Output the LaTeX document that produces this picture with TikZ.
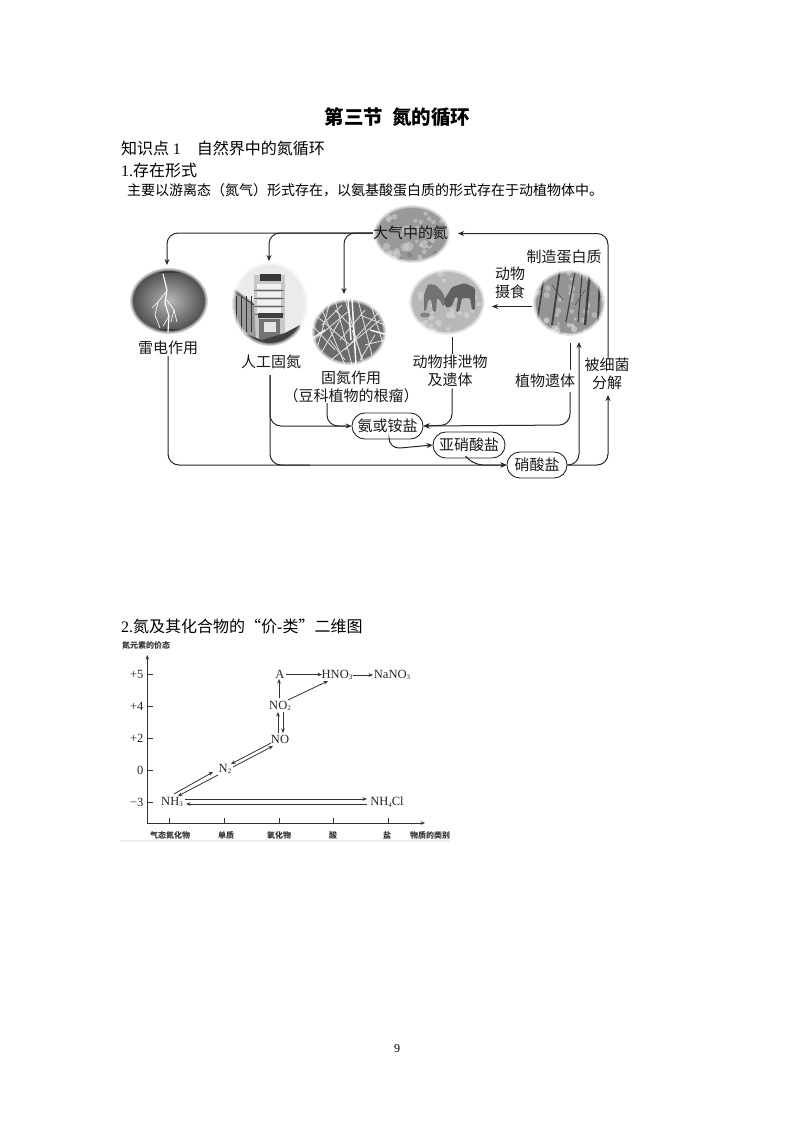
\documentclass[tikz,border=0pt]{standalone}
\usepackage{fontspec}
\setmainfont{Liberation Serif}
\newfontfamily\cjk{Noto Sans CJK SC}
\usetikzlibrary{arrows.meta,calc,shapes.geometric}
\newcommand{\fs}[1]{\fontsize{#1}{#1}\selectfont}
\newcommand{\softedge}[4]{%
  \foreach \w in {1.5,3,4.5,6}{\draw[white,opacity=.3,line width=\w pt] (#1,#2) ellipse [x radius=#3,y radius=#4];}%
  \draw[white,line width=6pt] (#1,#2) ellipse [x radius=#3+3,y radius=#4+3];}
\newcommand{\mottle}[7]{% cx cy rx ry color n size
  \foreach \i in {1,...,#6}{%
    \pgfmathsetmacro\pa{rand*180}\pgfmathsetmacro\pr{sqrt(rnd)}%
    \pgfmathsetmacro\qx{#1+\pr*#3*cos(\pa)}\pgfmathsetmacro\qy{#2+\pr*#4*sin(\pa)}%
    \pgfmathsetmacro\qs{#7*(.5+rnd)}%
    \fill[#5,opacity=.55] (\qx,\qy) circle [radius=\qs];}}
\tikzset{
  x=1pt,y=-1pt,
  txt/.style={inner sep=0pt,font=\cjk\fs{14}},
  head/.style={inner sep=0pt,anchor=west,font=\cjk\fs{16}},
  lab/.style={inner sep=0pt,align=center,font=\cjk\fs{15},text=black!90},
  salt/.style={draw=black!85,line width=.9pt,rounded corners=12.9pt,minimum height=26pt,inner sep=0pt,font=\cjk\fs{15},text=black!90},
  flow/.style={draw=black!85,line width=1pt,rounded corners=11pt},
  tip/.style={-{Stealth[length=6pt,width=5pt]}},
  chem/.style={inner sep=0pt,font=\fs{12.5},text=black!85},
  val/.style={inner sep=0pt,anchor=east,font=\fs{12.5},text=black!85},
  cat/.style={inner sep=0pt,font=\cjk\bfseries\fs{8},text=black!80},
  axis/.style={draw=black!80,line width=.85pt},
  link/.style={draw=black!80,line width=.8pt,-{Stealth[length=4.5pt,width=3.6pt]}}
}
\begin{document}
\begin{tikzpicture}
\useasboundingbox (0,0) rectangle (793,1122);
\fill[white] (0,0) rectangle (793,1122);

% --- page text
\node[inner sep=0pt,font=\cjk\bfseries\fs{19.5}] (title) at (397.5,117) {第三节\hspace{9pt}氮的循环};
\node[head] (k1) at (121,148) {知识点 {\rmfamily 1}\hspace{16pt}自然界中的氮循环};
\node[head] (k2) at (121,170) {{\rmfamily 1.}存在形式};
\node[txt,anchor=west] (k3) at (127,190) {主要以游离态（氮气）形式存在，以氨基酸蛋白质的形式存在于动植物体中。};
\node[head] (k4) at (121,626) {{\rmfamily 2.}氮及其化合物的“价{\rmfamily -}类”二维图};
\node[inner sep=0pt,font=\fs{12}] (page) at (397,1049) {9};

% --- photos
% atmosphere
\begin{scope}
\clip (412,234) ellipse [x radius=38,y radius=29];
\fill[black!40] (374,205) rectangle (450,263);
\pgfmathsetseed{11}
\mottle{412}{234}{38}{29}{black!18}{30}{3.4}
\mottle{412}{234}{38}{29}{black!55}{14}{2.2}
\end{scope}
\softedge{412}{234}{38}{29}

% lightning
\shade[inner color=black!28,outer color=black!72] (169,301) ellipse [x radius=39,y radius=33];
\begin{scope}
\clip (169,301) ellipse [x radius=39,y radius=33];
\fill[black!78] (169,269) ellipse [x radius=24,y radius=4];
\fill[black!78] (169,334) ellipse [x radius=30,y radius=5];
\draw[white,line width=1.2pt] (163,274) -- (167,290) -- (165,303) -- (169,316) -- (168,332);
\draw[white,line width=.7pt] (166,292) -- (158,302) -- (155,315) -- (160,328);
\draw[white,line width=.7pt] (167,300) -- (174,310) -- (177,322);
\draw[white,line width=.6pt] (158,302) -- (152,308);
\draw[white,line width=.6pt] (169,316) -- (163,326);
\draw[white,line width=.6pt] (174,310) -- (171,322);
\end{scope}
\softedge{169}{301}{39}{33}

% factory
\begin{scope}
\clip (270,304) ellipse [x radius=38,y radius=42];
\fill[black!8] (232,262) rectangle (308,346);
\fill[black!22] (254,275) rectangle (285,340);
\fill[black!78] (260,274) rectangle (281,281);
\foreach \yy in {284,292,300,308}{\fill[black!6] (257,\yy) rectangle (281,\yy+5);\draw[black!60,line width=.5pt] (254,\yy+6) -- (284,\yy+6);}
\fill[black!75] (258,313) rectangle (283,318);
\fill[black!55] (259,319) rectangle (280,340);
\fill[black!10] (264,322) rectangle (276,332);
\fill[black!40] (232,287) -- (254,303) -- (256,340) -- (232,335) -- cycle;
\foreach \xx in {236,241,246,251}{\draw[black!80,line width=.9pt] (\xx,296) -- (\xx,332);}
\draw[black!80,line width=.7pt] (232,290) -- (254,305);
\fill[black!75] (240,332) -- (262,340) -- (285,333) -- (300,325) -- (300,346) -- (240,346) -- cycle;
\end{scope}
\softedge{270}{304}{38}{42}

% root nodules
\begin{scope}
\clip (349,332) ellipse [x radius=37,y radius=33];
\fill[black!58] (312,299) rectangle (386,365);
\foreach \a/\b/\c/\d in {312/312/350/345,320/305/345/365,335/300/352/365,345/299/362/360,358/300/372/355,385/305/345/350,380/320/325/365,314/340/350/310,330/302/318/345,370/302/385/350,365/310/340/340,340/320/320/355,352/330/365/365,322/325/342/305,312/325/335/350,375/335/360/360,360/315/385/325,330/340/345/360,318/315/330/300,365/345/385/340,335/310/350/325}{
  \draw[black!15,line width=.9pt] (\a,\b) -- (\c,\d);}
\foreach \a/\b/\c/\d in {352/299/356/365,348/299/351/340,325/330/310/340,370/330/388/335}{
  \draw[black!3,line width=1.5pt] (\a,\b) -- (\c,\d);}
\end{scope}
\softedge{349}{332}{37}{33}

% cattle
\begin{scope}
\clip (447,302) ellipse [x radius=38,y radius=33];
\fill[black!28] (409,269) rectangle (485,335);
\pgfmathsetseed{5}
\mottle{447}{302}{38}{33}{black!14}{30}{2.4}
\fill[black!55,rounded corners=1.5pt] (424,295) -- (428,284) -- (436,285) -- (443,293) -- (446,302) -- (443,307) -- (440,300) -- (437,298) -- (436,312) -- (433,312) -- (431,299) -- (428,300) -- (426,311) -- (424,311) -- cycle;
\fill[black!62,rounded corners=1.5pt] (475,288) -- (465,283) -- (452,287) -- (444,300) -- (446,308) -- (452,306) -- (455,297) -- (458,297) -- (456,312) -- (459,312) -- (462,298) -- (470,298) -- (472,310) -- (475,310) -- cycle;
\fill[black!50] (425,315) ellipse [x radius=5,y radius=2.5];
\end{scope}
\softedge{447}{302}{38}{33}

% forest
\begin{scope}
\clip (569,303) ellipse [x radius=36,y radius=33];
\fill[black!42] (533,270) rectangle (606,336);
\pgfmathsetseed{23}
\mottle{569}{296}{36}{33}{black!18}{30}{2.2}
\mottle{569}{327}{36}{9}{black!10}{18}{2.4}
\foreach \a/\b/\c/\d/\w in {545/270/537/322/1.6,560/270/552/325/1.8,575/272/566/322/1.2,590/270/585/325/2.4,600/272/598/322/1.8,582/275/578/322/1.1}{
  \draw[black!75,line width=\w pt] (\a,\b) -- (\c,\d);}
\draw[black!65,line width=.7pt] (552,285) -- (563,300);
\draw[black!65,line width=.7pt] (585,290) -- (575,305);
\end{scope}
\softedge{569}{303}{36}{33}

% --- cycle labels
\node[lab] (air) at (410.5,233) {大气中的氮};
\node[lab] (llight) at (168,348) {雷电作用};
\node[lab] (lfac) at (271,362) {人工固氮};
\node[lab] (lroot) at (351,387) {固氮作用\\[3pt]（豆科植物的根瘤）};
\node[lab] (lprot) at (564,257) {制造蛋白质};
\node[lab] (leat) at (510,283) {动物\\[3pt]摄食};
\node[lab] (lanim) at (450,370.5) {动物排泄物\\[3pt]及遗体};
\node[lab] (lplant) at (545,381) {植物遗体};
\node[lab] (lbac) at (607,374) {被细菌\\[3pt]分解};
\node[salt,minimum width=71pt] (s1) at (387.5,426) {氨或铵盐};
\node[salt,minimum width=72pt] (s2) at (469,445) {亚硝酸盐};
\node[salt,minimum width=60pt] (s3) at (537,465) {硝酸盐};

% --- cycle connectors
\coordinate (t1) at (167,265);
\coordinate (t2) at (269,261);
\coordinate (t3) at (344,294);
\draw[flow,tip] (air.west) -- (167,233) -- (t1);
\draw[flow,tip] (air.west) -- (269,233) -- (t2);
\draw[flow,tip] (air.west) -- (344,233) -- (t3);
\coordinate (bac) at (608,358);
\draw[flow,tip] (bac) -- (608,233.5) -- (458,233.5);
\draw[flow,tip] (llight.south) ++(0,1) -- (168,465) -- (s3.west);
\coordinate (fa) at (270,375);
\draw[flow] (fa) -- (270,465) -- (310,465);
\draw[flow,tip] (fa) -- (270,426) -- (s1.west);
\coordinate (rt) at (327,403);
\draw[flow] (rt) -- (327,426) -- (346,426);
\coordinate (eatA) at (532,306.5);
\coordinate (eatB) at (492,306.5);
\draw[flow,tip] (eatA) -- (eatB);
\coordinate (an1) at (452,337);
\draw[flow] (an1) -- (lanim.north -| an1);
\draw[flow,tip] (lanim.south -| an1) ++(0,2) -- (452,425) -- (s1.east);
\coordinate (pl1) at (570,343);
\draw[flow] (pl1) -- (570,370);
\coordinate (pl2) at (570,392);
\draw[flow,tip] (pl2) -- (570,425) -- (s1.east);
\draw[flow,tip] (389,439) -- (389,449) -- (s2.west);
\draw[flow,tip] (467,458) -- (472,465) -- (s3.west);
\coordinate (up1) at (579,342);
\coordinate (up2) at (608,395);
\draw[flow,tip] (s3.east) -- (579,465) -- (up1);
\draw[flow,tip] (s3.east) -- (608,465) -- (up2);

% --- chart
\fill[black!7] (120,840) rectangle (450,842);
\node[cat] (ytitle) at (146,645) {氮元素的价态};
\coordinate (o) at (147.3,823);
\coordinate (ytop) at (147.3,655);
\coordinate (xend) at (425,823);
\draw[axis,{Stealth[length=4.5pt,width=3.6pt]}-{Stealth[length=4.5pt,width=3.6pt]}] (ytop) -- (o) -- (xend);
\foreach \yy/\t in {674/+5,706/+4,738/+2,770/0,802/−3}{
  \draw[axis] (147.3,\yy) -- (153,\yy);
  \node[val] at (143.5,\yy) {\t};}
\foreach \xx in {169,224,279,333,388}{\draw[axis] (\xx,823) -- (\xx,818);}
\foreach \xx/\t in {170/气态氮化物,226/单质,279/氧化物,333/酸,387/盐,430/物质的类别}{
  \node[cat] at (\xx,835) {\t};}
\newcommand{\lo}[1]{\raisebox{-1.5pt}{\fs{7}#1}}
\node[chem] (nh3) at (172,802) {NH\lo{3}};
\node[chem] (n2) at (225,769) {N\lo{2}};
\node[chem] (no) at (280,739) {NO};
\node[chem] (no2) at (280,706) {NO\lo{2}};
\node[chem] (a) at (280,674) {A};
\node[chem] (hno3) at (337,675) {HNO\lo{3}};
\node[chem] (nano3) at (392,675) {NaNO\lo{3}};
\node[chem] (nh4cl) at (387,802) {NH\lo{4}Cl};
\draw[link] ($(nh3)+(2,-8)$) -- ($(n2)+(-12,3)$);
\draw[link] ($(n2)+(-7,6)$) -- ($(nh3)+(6,-6)$);
\draw[link] ($(n2)+(8,-2)$) -- ($(no)+(-7,7)$);
\draw[link] ($(no)+(-9,4)$) -- ($(n2)+(6,-5)$);
\draw[link] ($(no)+(-2,-6)$) -- ($(no2)+(-2,6)$);
\draw[link] ($(no2)+(3,6)$) -- ($(no)+(3,-6)$);
\draw[link] ($(no2)+(-1,-8)$) -- ($(a)+(-1,5)$);
\draw[link] ($(a)+(6,.5)$) -- ($(hno3)+(-15,-.5)$);
\draw[link] ($(no2)+(8,-6)$) -- ($(hno3)+(-9,6)$);
\draw[link] ($(hno3)+(16,0)$) -- ($(nano3)+(-19,0)$);
\draw[link] ($(nh3)+(13,-3)$) -- ($(nh4cl)+(-20,-3)$);
\draw[link] ($(nh4cl)+(-20,2)$) -- ($(nh3)+(14,2)$);
\end{tikzpicture}
\end{document}
